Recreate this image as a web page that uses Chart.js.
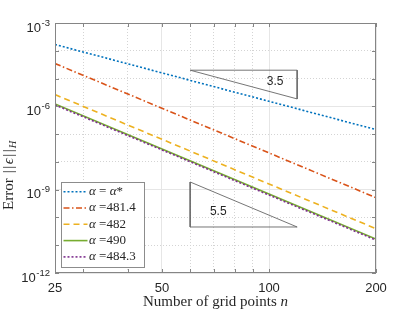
<!DOCTYPE html>
<html>
<head>
<meta charset="utf-8">
<script src="https://cdn.jsdelivr.net/npm/chart.js@4.4.1/dist/chart.umd.min.js"></script>
<style>
html, body { margin: 0; padding: 0; background: #fff; }
#chart { display: block; }
</style>
</head>
<body>
<canvas id="chart" width="415" height="312"></canvas>
<script>
// values
const gridPoints = [25, 50, 100, 200];
const errAlphaStar = [1.68e-4, 1.6e-5, 1.52e-6, 1.45e-7];
const err4814 = [3.47e-5, 8.5e-7, 2.1e-8, 5.15e-10];
const err482 = [2.65e-6, 6.5e-8, 1.6e-9, 3.94e-11];
const err490 = [1.22e-6, 2.92e-8, 7.0e-10, 1.67e-11];
const err4843 = [1.12e-6, 2.7e-8, 6.4e-10, 1.53e-11];

const seriesLabels = ['α = α*', 'α =481.4', 'α =482', 'α =490', 'α =484.3'];
const seriesColors = ['#0072BD', '#D95319', '#EDB120', '#77AC30', '#7E2F8E'];
const seriesDashes = [[2, 2], [6, 2.5, 1.5, 2.5], [6, 4], [], [2, 2]];

// slope triangles
const triUpperX = [60, 120, 120, 60];
const triUpperY = [2.0e-5, 2.0e-5, 1.85e-6, 2.0e-5];
const triLowerX = [60, 60, 120, 60];
const triLowerY = [1.89e-9, 4.53e-11, 4.53e-11, 1.89e-9];
const slopeLabels = ['3.5', '5.5'];
const slopeLabelX = [104, 72];
const slopeLabelY = [8.0e-6, 1.58e-10];

const xTicks = [25, 30, 40, 50, 60, 70, 80, 90, 100, 200];
const xMajorTicks = [25, 50, 100, 200];
const yTicks = [1e-3, 1e-4, 1e-5, 1e-6, 1e-7, 1e-8, 1e-9, 1e-10, 1e-11, 1e-12];
const yMajorTicks = [1e-3, 1e-6, 1e-9, 1e-12];
const yTickExponents = ['-3', '-6', '-9', '-12'];

const AXIS_COLOR = '#858585';
const TEXT_COLOR = '#262626';
const SERIF = '"Liberation Serif", "DejaVu Serif", serif';
const SANS = '"Liberation Sans", Arial, sans-serif';

function isMajor(list, v) {
    return list.some(m => Math.abs(Math.log10(m) - Math.log10(v)) < 1e-6);
}

function toPoints(xs, ys) {
    return xs.map((x, i) => ({ x: x, y: ys[i] }));
}

function gridColor(list) {
    return ctx => {
        if (!ctx.tick) return 'rgba(0,0,0,0)';
        return isMajor(list, ctx.tick.value) ? '#e6e6e6' : '#d4d4d4';
    };
}

function gridDash(list) {
    return ctx => {
        if (!ctx.tick) return [];
        return isMajor(list, ctx.tick.value) ? [] : [1, 2];
    };
}

// draws a run of text pieces with their own fonts, starting at x
function drawPieces(ctx, pieces, x, y) {
    pieces.forEach(p => {
        ctx.font = p.font;
        x += p.before || 0;
        ctx.fillText(p.text, x, y + (p.dy || 0));
        x += ctx.measureText(p.text).width + (p.after || 0);
    });
}

function piecesWidth(ctx, pieces) {
    let w = 0;
    pieces.forEach(p => {
        ctx.font = p.font;
        w += ctx.measureText(p.text).width + (p.before || 0) + (p.after || 0);
    });
    return w;
}

function legendPieces(label) {
    // alpha in italic, the rest upright
    return label.split('').map(ch => ({
        text: ch,
        font: (ch === 'α' ? 'italic ' : '') + '13px ' + SERIF
    }));
}

const decorations = {
    id: 'decorations',
    afterDraw(chart) {
        const { ctx, chartArea: a, scales: { x, y } } = chart;
        ctx.save();

        // frame + inward ticks
        ctx.strokeStyle = AXIS_COLOR;
        ctx.lineWidth = 1;
        ctx.strokeRect(a.left + 0.5, a.top + 0.5, a.right - a.left - 1, a.bottom - a.top - 1);
        ctx.beginPath();
        xTicks.forEach(v => {
            const px = Math.round(x.getPixelForValue(v)) + 0.5;
            ctx.moveTo(px, a.bottom); ctx.lineTo(px, a.bottom - 4);
            ctx.moveTo(px, a.top); ctx.lineTo(px, a.top + 4);
        });
        yTicks.forEach(v => {
            const py = Math.round(y.getPixelForValue(v)) + 0.5;
            ctx.moveTo(a.left, py); ctx.lineTo(a.left + 4, py);
            ctx.moveTo(a.right, py); ctx.lineTo(a.right - 4, py);
        });
        ctx.stroke();

        // tick labels
        ctx.fillStyle = TEXT_COLOR;
        ctx.textBaseline = 'alphabetic';
        ctx.textAlign = 'center';
        ctx.font = '13px ' + SANS;
        xMajorTicks.forEach(v => {
            ctx.fillText(String(v), x.getPixelForValue(v), a.bottom + 18.5);
        });
        ctx.textAlign = 'left';
        yMajorTicks.forEach((v, i) => {
            const py = y.getPixelForValue(v);
            ctx.font = '9.5px ' + SANS;
            const ew = ctx.measureText(yTickExponents[i]).width;
            ctx.font = '13px ' + SANS;
            const bw = ctx.measureText('10').width;
            const right = a.left - 5;
            ctx.fillText('10', right - ew - bw - 0.5, py + 8.8);
            ctx.font = '9.5px ' + SANS;
            ctx.fillText(yTickExponents[i], right - ew, py + 2.5);
        });

        // slope labels
        ctx.textAlign = 'center';
        ctx.textBaseline = 'middle';
        ctx.font = '12px ' + SANS;
        slopeLabels.forEach((t, i) => {
            ctx.fillText(t, x.getPixelForValue(slopeLabelX[i]), y.getPixelForValue(slopeLabelY[i]));
        });

        // axis titles
        ctx.textAlign = 'left';
        ctx.textBaseline = 'alphabetic';
        const xTitle = [
            { text: 'Number of grid points ', font: '15px ' + SERIF },
            { text: 'n', font: 'italic 15px ' + SERIF }
        ];
        const cx = (a.left + a.right) / 2;
        drawPieces(ctx, xTitle, cx - piecesWidth(ctx, xTitle) / 2, 305.5);

        const bar = '15px ' + SERIF;
        const yTitle = [
            { text: 'Error', font: '15px ' + SERIF, after: 5 },
            { text: '|', font: bar, after: 1.5 },
            { text: '|', font: bar, after: 1.5 },
            { text: 'ϵ', font: 'italic 15px ' + SERIF, after: 1.5 },
            { text: '|', font: bar, after: 1.5 },
            { text: '|', font: bar, after: 1 },
            { text: 'H', font: 'italic 10.5px ' + SERIF, dy: 3 }
        ];
        ctx.save();
        ctx.translate(12.5, 210);
        ctx.rotate(-Math.PI / 2);
        drawPieces(ctx, yTitle, 0, 0);
        ctx.restore();

        // legend
        const lx = 61.5, ly = 182.5, lw = 83, lh = 85;
        ctx.fillStyle = '#ffffff';
        ctx.fillRect(lx, ly, lw, lh);
        ctx.strokeStyle = '#8c8c8c';
        ctx.lineWidth = 1;
        ctx.strokeRect(lx, ly, lw, lh);
        seriesLabels.forEach((label, i) => {
            const ds = chart.data.datasets[i];
            const ry = 191.7 + i * 16.3;
            ctx.beginPath();
            ctx.strokeStyle = ds.borderColor;
            ctx.lineWidth = ds.borderWidth;
            ctx.setLineDash(ds.borderDash);
            ctx.moveTo(63.5, ry);
            ctx.lineTo(87.5, ry);
            ctx.stroke();
            ctx.setLineDash([]);
            ctx.fillStyle = TEXT_COLOR;
            ctx.textBaseline = 'middle';
            drawPieces(ctx, legendPieces(label), 89, ry);
        });

        ctx.restore();
    }
};

const seriesData = [errAlphaStar, err4814, err482, err490, err4843];
const datasets = seriesData.map((vals, i) => ({
    label: seriesLabels[i],
    data: toPoints(gridPoints, vals),
    borderColor: seriesColors[i],
    borderDash: seriesDashes[i],
    borderWidth: 1.6,
    pointRadius: 0,
    fill: false,
    tension: 0,
    order: seriesData.length - i
}));
[[triUpperX, triUpperY], [triLowerX, triLowerY]].forEach(t => {
    datasets.push({
        label: 'slope',
        data: toPoints(t[0], t[1]),
        borderColor: '#666666',
        borderWidth: 0.9,
        pointRadius: 0,
        fill: false,
        tension: 0,
        order: -1
    });
});

new Chart(document.getElementById('chart'), {
    type: 'line',
    data: { datasets: datasets },
    options: {
        responsive: false,
        animation: false,
        events: [],
        devicePixelRatio: 1,
        layout: { padding: { left: 55, right: 39, top: 23, bottom: 39 } },
        scales: {
            x: {
                type: 'logarithmic',
                min: 25,
                max: 200,
                afterBuildTicks: scale => { scale.ticks = xTicks.map(v => ({ value: v })); },
                ticks: { display: false },
                grid: { color: gridColor(xMajorTicks), drawTicks: false, lineWidth: 1 },
                border: { display: false, dash: gridDash(xMajorTicks) }
            },
            y: {
                type: 'logarithmic',
                min: 1e-12,
                max: 1e-3,
                afterBuildTicks: scale => { scale.ticks = yTicks.map(v => ({ value: v })); },
                ticks: { display: false },
                grid: { color: gridColor(yMajorTicks), drawTicks: false, lineWidth: 1 },
                border: { display: false, dash: gridDash(yMajorTicks) }
            }
        },
        plugins: {
            legend: { display: false },
            tooltip: { enabled: false }
        }
    },
    plugins: [decorations]
});
</script>
</body>
</html>
